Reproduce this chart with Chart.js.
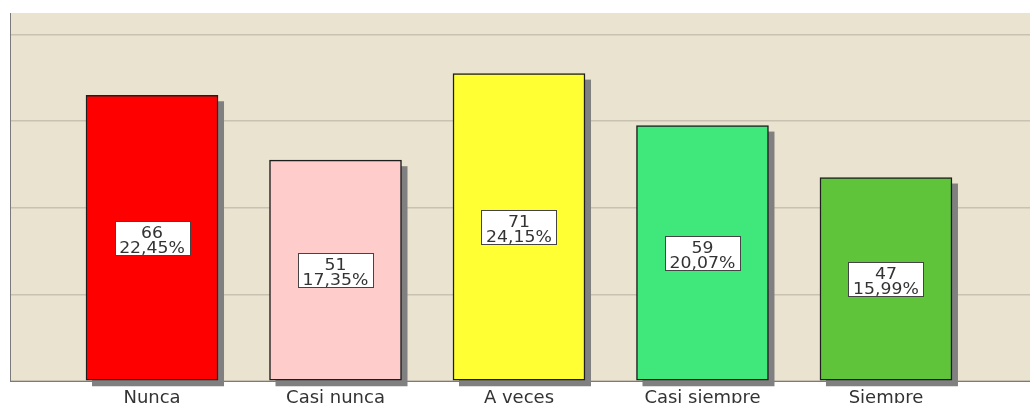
<!DOCTYPE html>
<html>
<head>
<meta charset="utf-8">
<script src="https://cdn.jsdelivr.net/npm/chart.js@4/dist/chart.umd.min.js"></script>
<style>
  html, body { margin: 0; padding: 0; background: #ffffff; overflow: hidden; }
  #wrap { width: 1030px; height: 403px; position: relative; }
</style>
</head>
<body>
<div id="wrap"><canvas id="chart" width="1030" height="403"></canvas></div>
<script>
// values
const categories = ['Nunca', 'Casi nunca', 'A veces', 'Casi siempre', 'Siempre']
const counts = [66, 51, 71, 59, 47]
const percents = ['22,45%', '17,35%', '24,15%', '20,07%', '15,99%']
const barColors = ['#ff0000', '#ffcccc', '#ffff33', '#40e87c', '#5fc43a']

// gray drop shadow behind each bar
const shadowPlugin = {
    id: 'shadow',
    beforeDatasetsDraw(chart) {
        const ctx = chart.ctx
        ctx.save()
        ctx.fillStyle = '#808080'
        chart.getDatasetMeta(0).data.forEach(el => {
            const w = el.width
            ctx.fillRect(el.x - w / 2 + 6, el.y + 6, w, el.base - el.y)
        })
        ctx.restore()
    }
}

// white boxes with count and percentage in the middle of each bar
const boxPlugin = {
    id: 'boxes',
    afterDatasetsDraw(chart) {
        const ctx = chart.ctx
        ctx.save()
        chart.getDatasetMeta(0).data.forEach((el, i) => {
            const mid = (el.y + el.base) / 2
            const bw = 75, bh = 34
            const bx = Math.round(el.x - bw / 2) + 0.5
            const by = Math.round(mid - bh / 2) + 0.5
            ctx.fillStyle = '#ffffff'
            ctx.fillRect(bx, by, bw, bh)
            ctx.strokeStyle = '#444444'
            ctx.lineWidth = 1
            ctx.strokeRect(bx, by, bw, bh)
            ctx.fillStyle = '#333333'
            ctx.font = '15px "DejaVu Sans"'
            ctx.textAlign = 'center'
            ctx.textBaseline = 'middle'
            const lines = [String(counts[i]), percents[i]]
            lines.forEach((t, k) => {
                ctx.save()
                ctx.translate(el.x, mid - 4 + k * 15)
                ctx.scale(1.15, 1)
                ctx.fillText(t, 0, 0)
                ctx.restore()
            })
        })
        ctx.restore()
    }
}

// beige plot background
const bgPlugin = {
    id: 'bg',
    beforeDraw(chart) {
        const a = chart.chartArea
        const ctx = chart.ctx
        ctx.save()
        ctx.fillStyle = '#eae3cf'
        ctx.fillRect(a.left, a.top, a.right - a.left, a.bottom - a.top)
        ctx.restore()
    }
}

new Chart(document.getElementById('chart'), {
    type: 'bar',
    data: {
        datasets: [{
            data: counts.map((v, i) => ({ x: i, y: v })),
            backgroundColor: barColors,
            borderColor: '#1e1e1e',
            borderWidth: 1.5,
            borderSkipped: false,
            barThickness: 132
        }]
    },
    options: {
        responsive: false,
        animation: false,
        layout: { padding: { left: 10, top: 13, right: 0, bottom: 0 } },
        plugins: {
            legend: { display: false },
            tooltip: { enabled: false }
        },
        scales: {
            x: {
                type: 'linear',
                offset: false,
                min: -0.774,
                max: 4.785,
                grid: { display: false, drawTicks: false, offset: false },
                border: { display: true, color: '#7a7a7a', width: 1 },
                afterBuildTicks: s => { s.ticks = categories.map((c, i) => ({ value: i })) },
                afterFit: s => { s.height = 22 },
                ticks: {
                    autoSkip: false,
                    maxRotation: 0,
                    padding: 7,
                    color: '#333333',
                    font: { family: 'DejaVu Sans', size: 18 },
                    callback: v => categories[v]
                }
            },
            y: {
                min: 0,
                max: 85,
                grid: { color: '#c9c2b3', lineWidth: 1.5, drawTicks: false },
                border: { display: true, color: '#7a7a7a', width: 1 },
                afterBuildTicks: s => { s.ticks = [0, 20, 40, 60, 80].map(v => ({ value: v })) },
                afterFit: s => { s.width = 0 },
                ticks: { display: false }
            }
        }
    },
    plugins: [bgPlugin, shadowPlugin, boxPlugin]
})
</script>
</body>
</html>
